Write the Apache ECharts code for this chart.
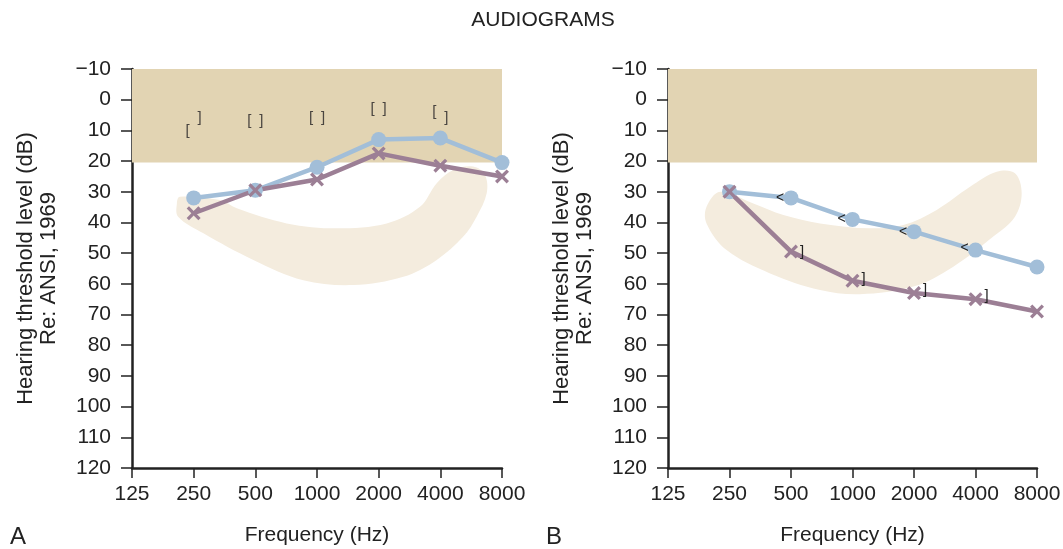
<!DOCTYPE html>
<html>
<head>
<meta charset="utf-8">
<title>Audiograms</title>
<script src="https://cdn.jsdelivr.net/npm/echarts@6/dist/echarts.min.js"></script>
<style>
  html, body { margin: 0; padding: 0; background: #fff; }
  #chart { width: 1063px; height: 549px; }
</style>
</head>
<body>
<div id="chart"></div>
<script>
// Octave scale tick labels (Hz)
const freqTicks = [125, 250, 500, 1000, 2000, 4000, 8000];
// Test frequencies for air conduction
const testFreqs = [250, 500, 1000, 2000, 4000, 8000];

// Panel A: air conduction thresholds (dB HL)
const airA_circle = [32, 29.5, 22, 13, 12.5, 20.5];
const airA_cross = [37, 29.5, 26, 17.5, 21.5, 25];
// Panel A: masked bone conduction "[" and "]"
const boneFreqsA = [250, 500, 1000, 2000, 4000];
const boneA_open = [10, 7, 6, 3, 4];
const boneA_close = [6, 7, 6, 3, 6];

// Panel B: air conduction thresholds (dB HL)
const airB_circle = [30, 32, 39, 43, 49, 54.5];
const airB_cross = [30, 49.5, 59, 63, 65, 69];
// Panel B: bone conduction "<" and "]"
const boneFreqsB = [500, 1000, 2000, 4000];
const boneB_lt = [32, 39, 43, 48.5];
const boneB_close = [49.5, 58.5, 62, 64];

// Normal hearing range (dB HL)
const normalRange = [-10, 20.5];

// Speech region outlines [Hz, dB HL]
const speechA = [
  [214, 31.6], [336, 32.7], [406, 35.4], [711, 40.3], [1248, 41.9], [2189, 40.3],
  [3182, 34.9], [3840, 27.2], [4626, 22.9], [5791, 21.8], [6606, 24.5], [6736, 30.5],
  [6016, 38.1], [5178, 44.6], [3840, 52.2], [2639, 57.7], [1504, 60.4], [857, 58.8],
  [489, 52.2], [279, 43.5], [210, 38.1], [207, 33.8]
];
const speechB = [
  [225, 30.0], [327, 33.8], [459, 37.6], [694, 40.3], [1218, 41.9], [1773, 40.8],
  [2583, 35.9], [3761, 28.4], [5080, 23.5], [6242, 24.0], [6731, 30.5], [6242, 38.1],
  [4887, 44.6], [3115, 54.4], [1985, 60.9], [1088, 63.4], [694, 62.0], [395, 56.6],
  [242, 49.0], [193, 40.3], [193, 34.9]
];

const FONT = "'Liberation Sans', Arial, Helvetica, sans-serif";
const FS = 21;
const TEXT = '#222';
const BLUE = '#a2bed8';
const PURPLE = '#9c7f95';
const BAND = '#e2d4b3';
const SPEECH = '#f4ecde';
const CROSS = 'path://M2,0 L6,4 L10,0 L12,2 L8,6 L12,10 L10,12 L6,8 L2,12 L0,10 L4,6 L0,2 Z';

// Octave position relative to 125 Hz
const oct = f => Math.log2(f / 125);
const pairs = (fs, vs) => fs.map((f, i) => [oct(f), vs[i]]);

function xAxisFor(gridIndex) {
  return {
    type: 'value', gridIndex, min: 0, max: freqTicks.length - 1, interval: 1,
    name: 'Frequency (Hz)', nameLocation: 'middle', nameGap: 57,
    nameTextStyle: { fontSize: FS, color: TEXT, fontFamily: FONT },
    axisLine: { onZero: false, lineStyle: { color: TEXT, width: 2.5 } },
    axisTick: { length: 10, lineStyle: { color: TEXT, width: 1.5 } },
    axisLabel: { margin: 16, fontSize: FS, color: TEXT, fontFamily: FONT,
      formatter: v => String(freqTicks[v]) },
    splitLine: { show: false }
  };
}

function yAxisFor(gridIndex) {
  return {
    type: 'value', gridIndex, inverse: true, min: -10, max: 120, interval: 10,
    name: 'Hearing threshold level (dB)\nRe: ANSI, 1969', nameLocation: 'middle',
    nameGap: 72, nameRotate: 90,
    nameTextStyle: { fontSize: 22, lineHeight: 23, color: TEXT, fontFamily: FONT },
    axisLine: { show: true, onZero: false, lineStyle: { color: TEXT, width: 2.5 } },
    axisTick: { length: 11, lineStyle: { color: TEXT, width: 1.5 } },
    axisLabel: { margin: 21, fontSize: FS, color: TEXT, fontFamily: FONT,
      formatter: v => (v < 0 ? '\u2212' + Math.abs(v) : String(v)) },
    splitLine: { show: false }
  };
}

function bandSeries(idx) {
  return {
    type: 'custom', xAxisIndex: idx, yAxisIndex: idx, silent: true, clip: false, z: 1,
    data: [[0, normalRange[0], freqTicks.length - 1, normalRange[1]]],
    renderItem: (params, api) => {
      const p0 = api.coord([api.value(0), api.value(1)]);
      const p1 = api.coord([api.value(2), api.value(3)]);
      return { type: 'rect', shape: { x: p0[0], y: p0[1], width: p1[0] - p0[0], height: p1[1] - p0[1] },
        style: { fill: BAND } };
    }
  };
}

function speechSeries(idx, outline) {
  return {
    type: 'custom', xAxisIndex: idx, yAxisIndex: idx, silent: true, clip: false, z: 1,
    data: outline.map(p => [oct(p[0]), p[1]]),
    renderItem: (params, api) => {
      if (params.dataIndex !== 0) return null;
      const pts = outline.map(p => api.coord([oct(p[0]), p[1]]));
      return { type: 'polygon', shape: { points: pts, smooth: 0.35 }, style: { fill: SPEECH } };
    }
  };
}

function airSeries(idx, values, color, symbol, size) {
  return {
    type: 'line', xAxisIndex: idx, yAxisIndex: idx, z: 3,
    data: pairs(testFreqs, values),
    symbol, symbolSize: size, showSymbol: true,
    lineStyle: { color, width: 4.5 },
    itemStyle: { color, opacity: 1 },
    emphasis: { disabled: true }, animation: false
  };
}

function glyphSeries(idx, fs, vs, glyph, dx, size, color) {
  return {
    type: 'custom', xAxisIndex: idx, yAxisIndex: idx, silent: true, clip: false, z: 4,
    data: pairs(fs, vs),
    renderItem: (params, api) => {
      const p = api.coord([api.value(0), api.value(1)]);
      return { type: 'text', x: p[0] + dx, y: p[1],
        style: { text: glyph, fill: color, fontSize: size, fontFamily: FONT,
          align: 'center', verticalAlign: 'middle' } };
    }
  };
}

const chart = echarts.init(document.getElementById('chart'), null, { renderer: 'canvas' });
chart.setOption({
  animation: false,
  backgroundColor: '#fff',
  grid: [
    { left: 132, right: 561, top: 69, bottom: 81, outerBoundsMode: 'none' },
    { left: 668, right: 26, top: 69, bottom: 81, outerBoundsMode: 'none' }
  ],
  xAxis: [xAxisFor(0), xAxisFor(1)],
  yAxis: [yAxisFor(0), yAxisFor(1)],
  graphic: [
    { type: 'text', x: 543, y: 20, style: { text: 'AUDIOGRAMS', fontSize: FS, fill: TEXT,
      fontFamily: FONT, align: 'center', verticalAlign: 'middle' } },
    { type: 'text', x: 10, y: 537, style: { text: 'A', fontSize: 24, fill: TEXT,
      fontFamily: FONT, align: 'left', verticalAlign: 'middle' } },
    { type: 'text', x: 546, y: 537, style: { text: 'B', fontSize: 24, fill: TEXT,
      fontFamily: FONT, align: 'left', verticalAlign: 'middle' } }
  ],
  series: [
    bandSeries(0),
    speechSeries(0, speechA),
    airSeries(0, airA_circle, BLUE, 'circle', 15),
    airSeries(0, airA_cross, PURPLE, CROSS, 14),
    glyphSeries(0, boneFreqsA, boneA_open, '[', -6, 15, '#4a4540'),
    glyphSeries(0, boneFreqsA, boneA_close, ']', 6, 15, '#4a4540'),

    bandSeries(1),
    speechSeries(1, speechB),
    airSeries(1, airB_circle, BLUE, 'circle', 15),
    airSeries(1, airB_cross, PURPLE, CROSS, 14),
    glyphSeries(1, boneFreqsB, boneB_lt, '<', -11, 14, '#222'),
    glyphSeries(1, boneFreqsB, boneB_close, ']', 11, 15, '#222')
  ]
});
</script>
</body>
</html>
